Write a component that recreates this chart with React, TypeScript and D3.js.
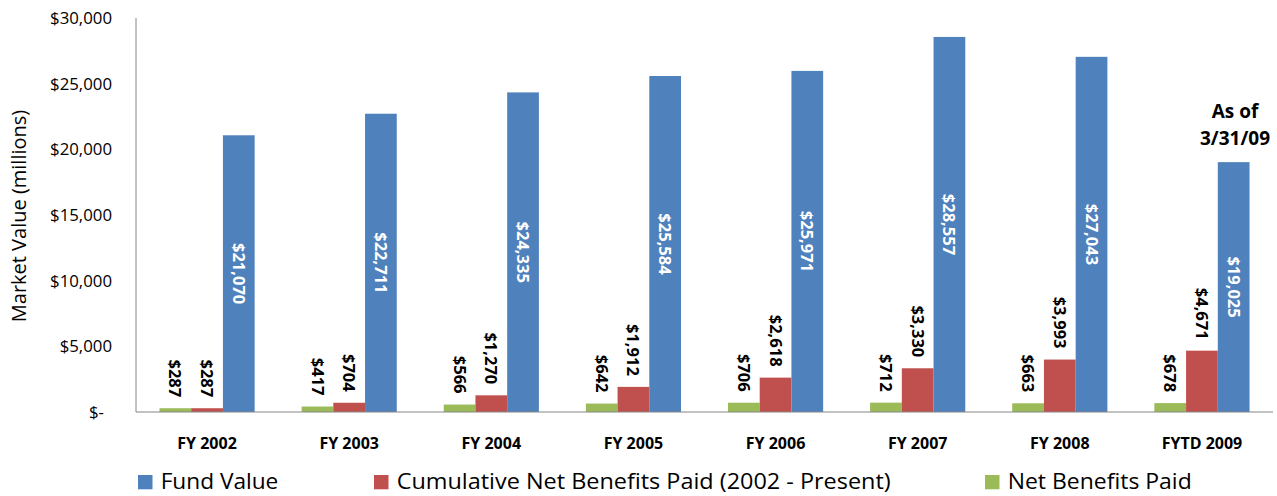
import React from "react";
import * as d3 from "d3";

const categories = ["FY 2002", "FY 2003", "FY 2004", "FY 2005", "FY 2006", "FY 2007", "FY 2008", "FYTD 2009"];
const netBenefitsPaid = [287, 417, 566, 642, 706, 712, 663, 678];
const cumulativeBenefits = [287, 704, 1270, 1912, 2618, 3330, 3993, 4671];
const fundValue = [21070, 22711, 24335, 25584, 25971, 28557, 27043, 19025];
const yTicks = [0, 5000, 10000, 15000, 20000, 25000, 30000];
const seriesNames = ["Net Benefits Paid", "Cumulative Net Benefits Paid (2002 - Present)", "Fund Value"];
const legendOrder = ["Fund Value", "Cumulative Net Benefits Paid (2002 - Present)", "Net Benefits Paid"];

const colors: Record<string, string> = {
  "Fund Value": "#4F81BD",
  "Cumulative Net Benefits Paid (2002 - Present)": "#C0504D",
  "Net Benefits Paid": "#9BBB59",
};

const W = 1277;
const H = 496;
const left = 136;
const right = 1273;
const top = 18;
const bottom = 412;
const FONT = "'Open Sans', 'Noto Sans', sans-serif";

export default function App() {
  const x0 = d3.scaleBand<string>().domain(categories).range([left, right]).paddingInner(0).paddingOuter(0);
  const x1 = d3.scaleBand<string>().domain(seriesNames).range([0, x0.bandwidth()]).paddingInner(0).paddingOuter(0.74);
  const y = d3.scaleLinear().domain([0, 30000]).range([bottom, top]);
  const fmt = (v: number) => (v === 0 ? "$-" : "$" + d3.format(",")(v));
  const valuesFor = (s: string) =>
    s === "Fund Value" ? fundValue : s === "Net Benefits Paid" ? netBenefitsPaid : cumulativeBenefits;

  const legendX: Record<string, number> = {
    "Fund Value": 138,
    "Cumulative Net Benefits Paid (2002 - Present)": 374,
    "Net Benefits Paid": 985,
  };
  const legendLen: Record<string, number> = {
    "Fund Value": 117.6,
    "Cumulative Net Benefits Paid (2002 - Present)": 494,
    "Net Benefits Paid": 184,
  };

  return (
    <svg width={W} height={H} style={{ position: "absolute", left: 0, top: 0, background: "#fff" }} fontFamily={FONT}>
      {yTicks.map((t) => (
        <text key={t} x={t === 0 ? 104 : 112} y={y(t)} dy="0.36em" textAnchor="end" fontSize={16.8} fill="#000">
          {fmt(t)}
        </text>
      ))}
      <text transform={`translate(26,216) rotate(-90)`} textAnchor="middle" fontSize={20} fill="#000">
        Market Value (millions)
      </text>
      {categories.map((c, i) => (
        <g key={c}>
          {seriesNames.map((s) => {
            const v = valuesFor(s)[i];
            const bx = (x0(c) as number) + (x1(s) as number);
            const bw = x1.bandwidth();
            const by = y(v);
            const cx = bx + bw / 2;
            return (
              <g key={s}>
                <rect x={bx} y={by} width={bw} height={bottom - by} fill={colors[s]} />
                {s === "Fund Value" ? (
                  <text
                    transform={`translate(${cx},${(by + bottom) / 2}) rotate(90)`}
                    textAnchor="middle"
                    dy="0.36em"
                    fontSize={16.5}
                    fontWeight="bold"
                    fill="#fff"
                  >
                    {fmt(v)}
                  </text>
                ) : (
                  <text
                    transform={`translate(${cx},${by - 11}) rotate(90)`}
                    textAnchor="end"
                    dy="0.36em"
                    fontSize={16.5}
                    fontWeight="bold"
                    fill="#000"
                  >
                    {fmt(v)}
                  </text>
                )}
              </g>
            );
          })}
          <text x={(x0(c) as number) + x0.bandwidth() / 2} y={449} textAnchor="middle" fontSize={16} fontWeight="bold" fill="#000">
            {c}
          </text>
        </g>
      ))}
      <line x1={left} x2={left} y1={top} y2={bottom} stroke="#868686" strokeWidth={1} />
      <line x1={left} x2={right} y1={bottom} y2={bottom} stroke="#868686" strokeWidth={1} />
      <text x={1235} y={118} textAnchor="middle" fontSize={19} fontWeight="bold" fill="#000">As of</text>
      <text x={1235} y={145} textAnchor="middle" fontSize={19} fontWeight="bold" fill="#000">3/31/09</text>
      {legendOrder.map((s) => (
        <g key={s}>
          <rect x={legendX[s]} y={475} width={14.5} height={14.3} fill={colors[s]} />
          <text
            x={legendX[s] + 22.7}
            y={489.3}
            fontSize={22}
            fill="#000"
            textLength={legendLen[s]}
            lengthAdjust="spacingAndGlyphs"
          >
            {s}
          </text>
        </g>
      ))}
    </svg>
  );
}
